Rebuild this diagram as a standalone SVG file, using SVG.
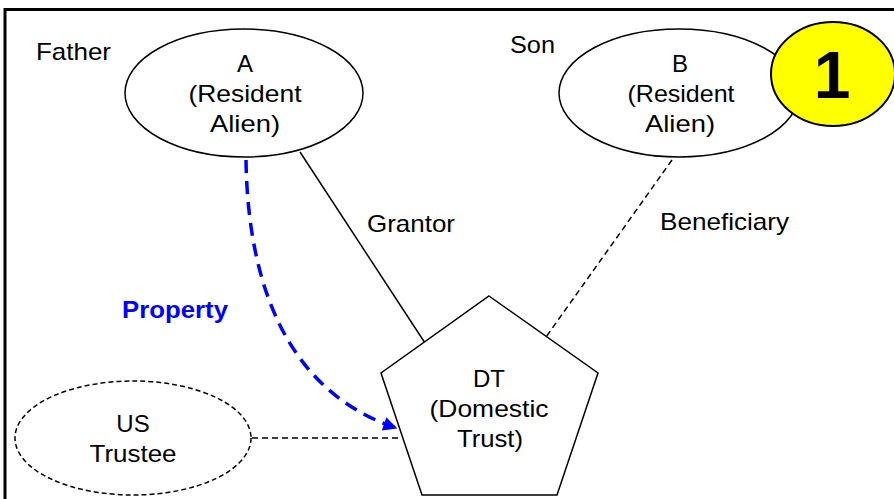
<svg xmlns="http://www.w3.org/2000/svg" width="894" height="499" viewBox="0 0 894 499">
<defs>
<style>
text{font-family:"Liberation Sans",Arial,sans-serif;font-size:24px;fill:#000;text-anchor:middle}
.lbl{text-anchor:start}
.node{fill:#fff;stroke:#000;stroke-width:1.5}
.dash{stroke-dasharray:5 3}
.conn{fill:none;stroke:#000;stroke-width:1.5}
.cdash{stroke-dasharray:6 4}
.prop{fill:none;stroke:#0000ff;stroke-width:3.5;stroke-dasharray:13 8}
</style>
<marker id="ah" viewBox="0 0 10 10" refX="9" refY="5" markerWidth="5" markerHeight="4" markerUnits="strokeWidth" orient="auto">
<path d="M0,0 L10,5 L0,10 Z" fill="#0000ff"/>
</marker>
</defs>
<rect x="5" y="9.5" width="900" height="500" fill="#fff" stroke="#000" stroke-width="3"/>
<g id="connectors">
<line class="conn" x1="300" y1="152" x2="425" y2="343"/>
<line class="conn cdash" x1="672" y1="160" x2="546" y2="337"/>
<line class="conn cdash" x1="252" y1="438" x2="402" y2="438"/>
<path class="prop" d="M246,160 C248,290 290,392 396,428" marker-end="url(#ah)"/>
</g>
<g id="nodeA">
<ellipse class="node" cx="244" cy="93" rx="119" ry="64"/>
<text x="245" y="72">A</text>
<text x="245" y="102" textLength="113" lengthAdjust="spacingAndGlyphs">(Resident</text>
<text x="245" y="132" textLength="70" lengthAdjust="spacingAndGlyphs">Alien)</text>
</g>
<g id="nodeB">
<ellipse class="node" cx="679" cy="93" rx="120" ry="64"/>
<text x="680" y="72">B</text>
<text x="681" y="102" textLength="107" lengthAdjust="spacingAndGlyphs">(Resident</text>
<text x="680" y="132" textLength="70" lengthAdjust="spacingAndGlyphs">Alien)</text>
</g>
<g id="badge">
<ellipse cx="833" cy="74" rx="62" ry="52" fill="#ffff00" stroke="#000" stroke-width="2"/>
<text x="832" y="98" style="font-weight:bold;font-size:66px">1</text>
</g>
<g id="nodeDT">
<polygon class="node" points="489,296 598,373 557,495 422,495 381,373"/>
<text x="489" y="387">DT</text>
<text x="489" y="417" textLength="119" lengthAdjust="spacingAndGlyphs">(Domestic</text>
<text x="490" y="447" textLength="66" lengthAdjust="spacingAndGlyphs">Trust)</text>
</g>
<g id="nodeUS">
<ellipse class="node dash" cx="133" cy="438" rx="118" ry="57"/>
<text x="133" y="432">US</text>
<text x="133" y="462" textLength="87" lengthAdjust="spacingAndGlyphs">Trustee</text>
</g>
<g id="labels">
<text class="lbl" x="36" y="60" textLength="75" lengthAdjust="spacingAndGlyphs">Father</text>
<text class="lbl" x="510" y="53" textLength="45" lengthAdjust="spacingAndGlyphs">Son</text>
<text class="lbl" x="367" y="232" textLength="88" lengthAdjust="spacingAndGlyphs">Grantor</text>
<text class="lbl" x="660" y="230" textLength="129" lengthAdjust="spacingAndGlyphs">Beneficiary</text>
<text class="lbl" x="122" y="318" textLength="106" lengthAdjust="spacingAndGlyphs" style="fill:#0000ff;font-weight:bold;font-size:23px">Property</text>
</g>
</svg>
